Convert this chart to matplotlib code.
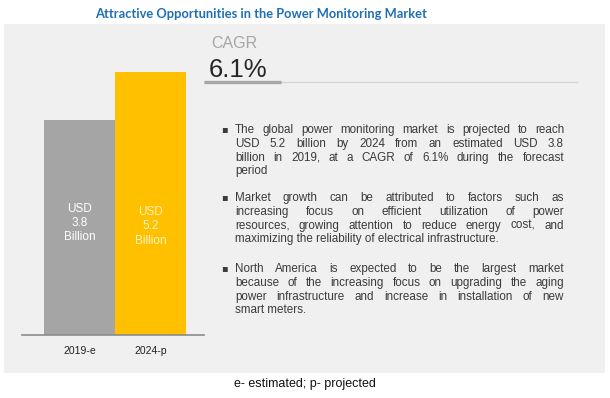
import matplotlib
matplotlib.use("Agg")
import matplotlib.pyplot as plt
import numpy as np
from matplotlib.patches import Rectangle
from matplotlib.lines import Line2D

W, H = 610, 398

# data
years = ["2019-e", "2024-p"]
market_size = [3.8, 5.2]
bar_labels = ["USD\n3.8\nBillion", "USD\n5.2\nBillion"]
title = "Attractive Opportunities in the Power Monitoring Market"
cagr_text = "6.1%"
footnote = "e- estimated; p- projected"
bullets = [
    ["The global power monitoring market is projected to reach",
     "USD 5.2 billion by 2024 from an estimated USD 3.8",
     "billion in 2019, at a CAGR of 6.1% during the forecast",
     "period"],
    ["Market growth can be attributed to factors such as",
     "increasing focus on efficient utilization of power",
     "resources, growing attention to reduce energy cost, and",
     "maximizing the reliability of electrical infrastructure."],
    ["North America is expected to be the largest market",
     "because of the increasing focus on upgrading the aging",
     "power infrastructure and increase in installation of new",
     "smart meters."],
]

fig = plt.figure(figsize=(W / 100, H / 100), dpi=100)
fig.patch.set_facecolor("white")


def fx(px):
    return px / W


def fy(py):
    return 1 - py / H


# grey panel
fig.add_artist(Rectangle((fx(4), fy(373)), fx(601), 349 / H, transform=fig.transFigure,
                         facecolor="#f0f0f0", edgecolor="none", zorder=0))

fig.text(fx(261), fy(14), title, ha="center", va="center", fontsize=9.3,
         fontweight="bold", color="#1f6fb5", family="Lato")

# bar chart - axis does not start at zero in the original
bar_base = 2.47
ax = fig.add_axes([fx(22), fy(335), fx(182), 263 / H])
ax.set_facecolor("none")
ax.bar([0, 1], np.array(market_size) + bar_base, width=1.0, bottom=-bar_base,
       color=["#a5a5a5", "#ffc000"], zorder=2)
ax.set_xlim(-0.5 - 22 / 71, 1.5 + 18 / 71)
ax.set_ylim(-bar_base, max(market_size))
for s in ["top", "left", "right"]:
    ax.spines[s].set_visible(False)
ax.spines["bottom"].set_color("#8c8c8c")
ax.spines["bottom"].set_linewidth(1.2)
ax.spines["bottom"].set_zorder(3)
ax.set_yticks([])
ax.set_xticks([0, 1])
ax.set_xticklabels(years, fontsize=7.5, color="#222222", family="Liberation Sans")
ax.tick_params(axis="x", length=0, pad=8)
label_y = [0.425, 0.413]
label_col = ["white", "#fff3c4"]
for i, lab in enumerate(bar_labels):
    ax.text(i, label_y[i], lab, transform=ax.get_xaxis_transform(), ha="center",
            va="center", fontsize=8.5, color=label_col[i], linespacing=1.25,
            family="Liberation Sans")

# CAGR block
fig.text(fx(211), fy(43), "CAGR", ha="left", va="center", fontsize=11.5,
         color="#a6a6a6", family="Liberation Sans")
fig.text(fx(209), fy(70), cagr_text, ha="left", va="center", fontsize=18.5,
         color="#262626", family="Liberation Sans")
fig.add_artist(Line2D([fx(204), fx(577)], [fy(82), fy(82)], color="#d3d3d3",
                      linewidth=0.9, transform=fig.transFigure))
fig.add_artist(Line2D([fx(204), fx(281)], [fy(82), fy(82)], color="#a6a6a6",
                      linewidth=2.4, transform=fig.transFigure, solid_capstyle="butt"))

# justified bullet text
renderer = fig.canvas.get_renderer()
txt_kw = dict(fontsize=8.4, color="#3b3b3b", family="Liberation Sans", va="baseline", ha="left")
left, right = 235, 564
line_gap = 13.8
para_top = [133, 201, 272]
for p, lines in enumerate(bullets):
    y0 = para_top[p]
    fig.text(fx(224), fy(y0 - 3.5), "\u25aa", fontsize=7, color="#3b3b3b",
             ha="center", va="center", family="DejaVu Sans")
    for j, line in enumerate(lines):
        y = y0 + j * line_gap
        words = line.split(" ")
        last = j == len(lines) - 1
        if last:
            fig.text(fx(left), fy(y), line, **txt_kw)
            continue
        arts = [fig.text(fx(left), fy(y), w, **txt_kw) for w in words]
        widths = [a.get_window_extent(renderer).width for a in arts]
        gap = (right - left - sum(widths)) / (len(words) - 1)
        x = left
        for a, wd in zip(arts, widths):
            a.set_x(fx(x))
            x += wd + gap

fig.text(fx(305), fy(384), footnote, ha="center", va="center", fontsize=9,
         color="#111111", family="Liberation Sans")

fig.savefig("out.png", dpi=100)
